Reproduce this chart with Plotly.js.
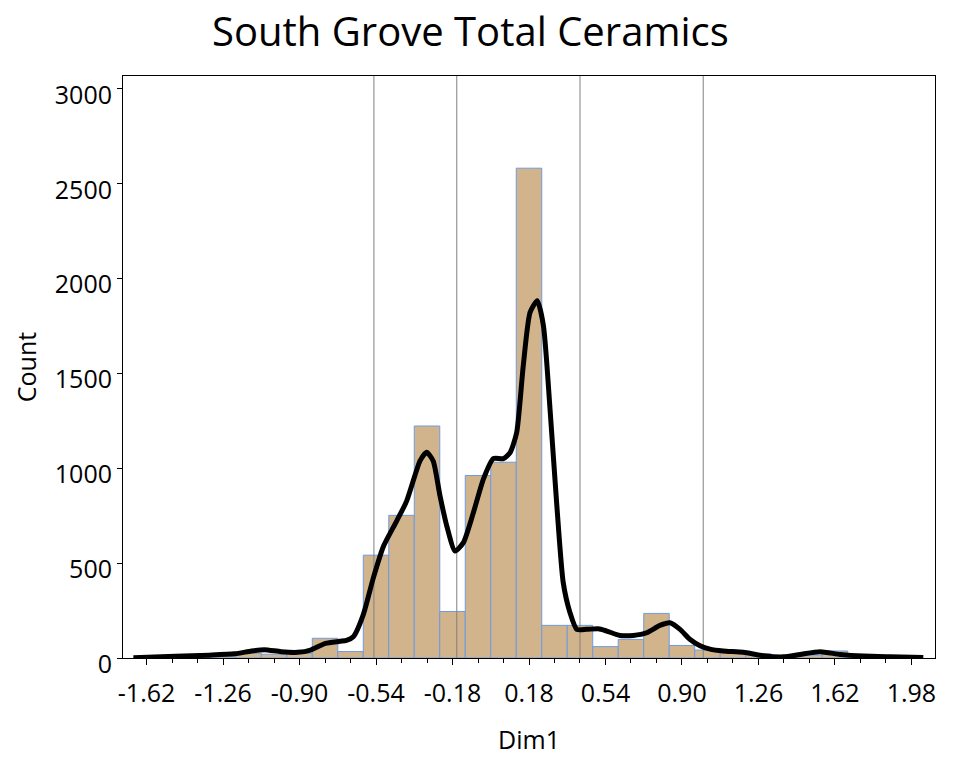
<!DOCTYPE html>
<html>
<head>
<meta charset="utf-8">
<script src="https://cdn.plot.ly/plotly-3.0.1.min.js"></script>
<style>html,body{margin:0;padding:0;background:#fff;}#chart{width:960px;height:780px;}</style>
</head>
<body>
<div id="chart"></div>
<script>
// Histogram bins (centres, width 0.12) and counts
const binCenters = [-1.62, -1.50, -1.38, -1.26, -1.14, -1.02, -0.90, -0.78, -0.66, -0.54,
                    -0.42, -0.30, -0.18, -0.06, 0.06, 0.18, 0.30, 0.42, 0.54, 0.66,
                    0.78, 0.90, 1.02, 1.14, 1.26, 1.38, 1.50, 1.62, 1.74, 1.86];
const binCounts  = [3, 5, 8, 10, 25, 20, 25, 104, 34, 542,
                    752, 1223, 245, 962, 1032, 2582, 172, 172, 60, 98,
                    235, 66, 42, 30, 22, 3, 15, 37, 5, 3];
const binWidth = 0.12;

// Smoothed density curve (scaled to counts)
const curveX = [-1.682, -1.484, -1.325, -1.206, -1.126, -1.066, -0.987, -0.908, -0.848, -0.778,
                -0.710, -0.679, -0.647, -0.600, -0.553, -0.505, -0.443, -0.396, -0.333, -0.302,
                -0.271, -0.239, -0.207, -0.168, -0.129, -0.082, -0.035, 0.012, 0.059, 0.091,
                0.122, 0.153, 0.185, 0.219, 0.248, 0.279, 0.310, 0.341, 0.373, 0.405,
                0.451, 0.506, 0.546, 0.608, 0.671, 0.734, 0.796, 0.844, 0.891, 0.937,
                0.985, 1.032, 1.094, 1.189, 1.283, 1.377, 1.456, 1.550, 1.644, 1.754,
                1.879, 2.036];
const curveY = [1, 9, 15, 22, 37, 44, 33, 30, 42, 77,
                88, 93, 112, 229, 421, 589, 722, 827, 1039, 1085,
                1039, 855, 696, 564, 608, 766, 942, 1051, 1051, 1083,
                1189, 1541, 1822, 1883, 1751, 1312, 819, 398, 239, 151,
                151, 154, 142, 119, 119, 133, 172, 186, 151, 99,
                65, 47, 37, 30, 12, 6, 19, 33, 19, 10,
                6, 2];

// Vertical reference lines
const refLines = [-0.55, -0.16, 0.42, 1.0];

// Axis ticks
const xTickVals = [-1.62, -1.26, -0.90, -0.54, -0.18, 0.18, 0.54, 0.90, 1.26, 1.62, 1.98];
const xTickText = ["-1.62", "-1.26", "-0.90", "-0.54", "-0.18", "0.18", "0.54", "0.90", "1.26", "1.62", "1.98"];
const yTickVals = [0, 500, 1000, 1500, 2000, 2500, 3000];
const yTickText = ["0", "500", "1000", "1500", "2000", "2500", "3000"];

const yMax = 3068;

const lineX = [], lineY = [];
refLines.forEach(v => { lineX.push(v, v, null); lineY.push(0, yMax, null); });

const FONT = "Open Sans, Noto Sans, sans-serif";

const traces = [
  {
    type: 'bar', x: binCenters, y: binCounts, width: binWidth,
    marker: {color: '#D2B48C', line: {color: '#6E9BE0', width: 1}},
    hoverinfo: 'x+y', showlegend: false
  },
  {
    type: 'scatter', mode: 'lines', x: lineX, y: lineY,
    line: {color: '#808080', width: 1}, hoverinfo: 'skip', showlegend: false
  },
  {
    type: 'scatter', mode: 'lines', x: curveX, y: curveY,
    line: {color: '#000000', width: 5, shape: 'spline', smoothing: 0.6},
    showlegend: false
  }
];

const layout = {
  width: 960, height: 780,
  paper_bgcolor: '#ffffff', plot_bgcolor: '#ffffff',
  margin: {l: 123, r: 25, t: 76, b: 122, pad: 0},
  font: {family: FONT, color: '#000000', size: 25},
  title: {
    text: 'South Grove Total Ceramics',
    font: {family: FONT, size: 40, color: '#000000'},
    x: 0.49, xref: 'container', xanchor: 'center',
    y: 0.959, yref: 'container', yanchor: 'middle'
  },
  bargap: 0,
  xaxis: {
    range: [-1.731, 2.091],
    tickmode: 'array', tickvals: xTickVals, ticktext: xTickText,
    ticks: 'outside', ticklen: 6, tickcolor: '#000', tickwidth: 1,
    minor: {tickmode: 'linear', tick0: -1.62, dtick: 0.12, ticks: 'outside', ticklen: 4, tickcolor: '#000', showgrid: false},
    ticklabelstandoff: 7,
    tickfont: {family: FONT, size: 25, color: '#000'},
    showline: true, linecolor: '#000', linewidth: 1, mirror: true,
    showgrid: false, zeroline: false,
    title: {text: 'Dim1', font: {family: FONT, size: 25, color: '#000'}, standoff: 23}
  },
  yaxis: {
    range: [0, yMax],
    tickmode: 'array', tickvals: yTickVals, ticktext: yTickText,
    ticks: 'outside', ticklen: 5, tickcolor: '#000', tickwidth: 1,
    ticklabelstandoff: 0,
    ticklabelshift: 6,
    tickfont: {family: FONT, size: 25, color: '#000'},
    showline: true, linecolor: '#000', linewidth: 1, mirror: true,
    showgrid: false, zeroline: false,
    title: {text: 'Count', font: {family: FONT, size: 25, color: '#000'}, standoff: 11}
  }
};

Plotly.newPlot('chart', traces, layout, {displayModeBar: false, staticPlot: true});
</script>
</body>
</html>
